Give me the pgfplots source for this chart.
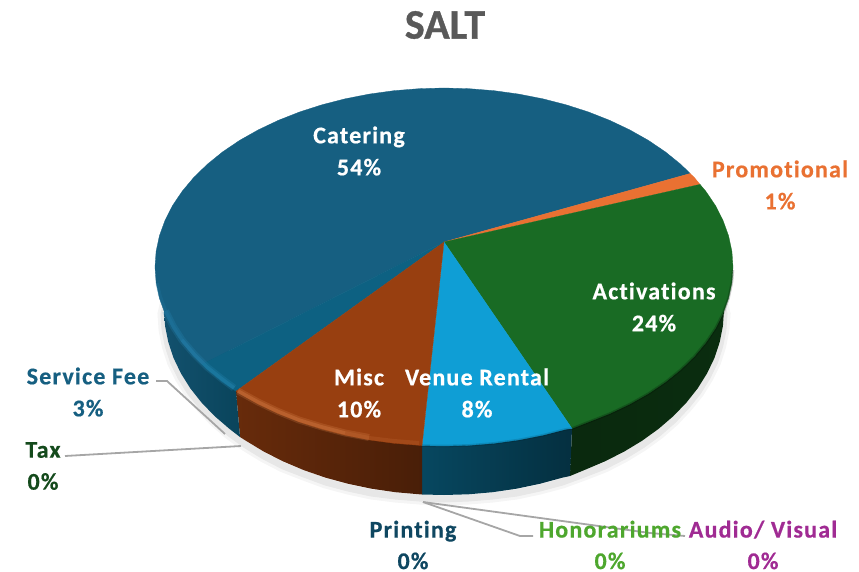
\documentclass[border=0pt]{standalone}
\usepackage{pgfplots}
\pgfplotsset{compat=1.18}
\usepackage{fontspec}
\setmainfont{Carlito}[LetterSpace=5,Ligatures=NoCommon,BoldFeatures={FakeBold=0.5}]
\newfontfamily\titlefont{Carlito}[BoldFeatures={FakeBold=0.8}]
\definecolor{cCat}{HTML}{165F81}
\definecolor{cSvc}{HTML}{0D6182}
\definecolor{cPro}{HTML}{E97132}
\definecolor{cAct}{HTML}{196B24}
\definecolor{cVen}{HTML}{0F9ED5}
\definecolor{cMis}{HTML}{983F10}
\definecolor{cTax}{HTML}{144A1C}
\definecolor{cPri}{HTML}{0F4761}
\definecolor{cHon}{HTML}{4EA72E}
\definecolor{cAud}{HTML}{A02B93}
\definecolor{cLead}{HTML}{A6A6A6}
\definecolor{hBlue}{HTML}{2C90C0}
\definecolor{hBrown}{HTML}{E08A50}
\tikzset{lab/.style={font=\fontsize{24}{32}\selectfont\bfseries, align=center, anchor=center}}
\tikzset{labb/.style={font=\fontsize{24}{31.5}\selectfont\bfseries, align=center, anchor=center, inner sep=0pt}}
\begin{document}
\begin{tikzpicture}
\begin{axis}[
  scale only axis, width=859pt, height=572pt,
  xmin=0, xmax=859, ymin=0, ymax=572, y dir=reverse,
  hide axis, clip=false, no markers,
]
\path[use as bounding box] (axis cs:0,0) rectangle (axis cs:859,572);
% soft shadow below the pie
\addplot[draw=black, opacity=0.04, line width=13pt] coordinates {(164,314)(165.1,330)(168.3,346)(173.5,362)(180.9,377)(190.2,392)(201.5,406)(214.6,420)(229.5,433)(246,445)(264,456)(283.4,466)(304,474)(325.7,482)(348.2,488)(371.5,493)(395.4,496)(419.6,498)(444,499)(468.4,498)(492.6,496)(516.5,493)(539.8,488)(562.3,482)(584,474)(604.6,466)(624,456)(642,445)(658.5,433)(673.4,420)(686.5,406)(697.8,392)(707.1,377)(714.5,362)(719.7,346)(722.9,330)(724,314)(700,210)(444,130)(188,210)} --cycle;
\addplot[draw=black, opacity=0.06, line width=7pt] coordinates {(164,314)(165.1,330)(168.3,346)(173.5,362)(180.9,377)(190.2,392)(201.5,406)(214.6,420)(229.5,433)(246,445)(264,456)(283.4,466)(304,474)(325.7,482)(348.2,488)(371.5,493)(395.4,496)(419.6,498)(444,499)(468.4,498)(492.6,496)(516.5,493)(539.8,488)(562.3,482)(584,474)(604.6,466)(624,456)(642,445)(658.5,433)(673.4,420)(686.5,406)(697.8,392)(707.1,377)(714.5,362)(719.7,346)(722.9,330)(724,314)(700,210)(444,130)(188,210)} --cycle;
% side walls
\addplot[draw=none, left color=cAct!38!black, right color=cAct!42!black] coordinates {(572,428.5)(570,476)(584,470.2)(604.6,461.5)(624,451.7)(642,440.8)(658.5,428.9)(673.4,416.1)(686.5,402.5)(697.8,388.2)(707.1,373.3)(714.5,357.9)(719.7,342.1)(722.9,326.1)(724,310)(650,330)} --cycle;
\addplot[draw=none, left color=cVen!45!black, right color=cVen!30!black] coordinates {(422,445)(422,494.5)(444,495)(468.4,494.3)(492.6,492.2)(516.5,488.7)(539.8,483.8)(562.3,477.7)(570,476)(572,428.5)(500,420)} --cycle;
\addplot[draw=none, left color=cMis!68!black, right color=cMis!48!black] coordinates {(236,391)(240,437)(246,440.8)(264,451.7)(283.4,461.5)(304,470.2)(325.7,477.7)(348.2,483.8)(371.5,488.7)(395.4,492.2)(419.6,494.3)(422,494.5)(422,445)(330,400)} --cycle;
\addplot[draw=none, left color=cCat!85!black, right color=cSvc!70!black] coordinates {(236,391)(240,437)(229.5,428.9)(214.6,416.1)(201.5,402.5)(190.2,388.2)(180.9,373.3)(173.5,357.9)(168.3,342.1)(165.1,326.1)(164,310)(200,300)(240,370)} --cycle;
% top face
\addplot[fill=cCat, draw=cCat, line width=0.3pt] coordinates {(444,242)(201.9,364.4)(193.7,356.5)(182.1,342.6)(172.4,328.2)(164.9,313.3)(159.4,298.1)(156.1,282.6)(155,267)(156.1,251.4)(159.4,235.9)(164.9,220.7)(172.4,205.8)(182.1,191.4)(193.7,177.5)(207.3,164.3)(222.6,151.9)(239.6,140.4)(258.2,129.9)(278.2,120.4)(299.5,112)(321.9,104.8)(345.2,98.8)(369.2,94.1)(393.8,90.7)(418.8,88.7)(444,88)(469.2,88.7)(494.2,90.7)(518.8,94.1)(542.8,98.8)(566.1,104.8)(588.5,112)(609.8,120.4)(629.8,129.9)(648.4,140.4)(665.4,151.9)(680.7,164.3)(690.2,173.5)} --cycle;
\addplot[fill=cSvc, draw=cSvc, line width=0.3pt] coordinates {(444,242)(236,391.2)(222.6,382.1)(207.3,369.7)(201.9,364.4)} --cycle;
\addplot[fill=cPro, draw=cPro, line width=0.3pt] coordinates {(444,242)(690.2,173.5)(694.3,177.5)(700,184.4)} --cycle;
\addplot[fill=cAct, draw=cAct, line width=0.3pt] coordinates {(444,242)(700,184.4)(705.9,191.4)(715.6,205.8)(723.1,220.7)(728.6,235.9)(731.9,251.4)(733,267)(731.9,282.6)(728.6,298.1)(723.1,313.3)(715.6,328.2)(705.9,342.6)(694.3,356.5)(680.7,369.7)(665.4,382.1)(648.4,393.6)(629.8,404.1)(609.8,413.6)(588.5,422)(572,428.5)} --cycle;
\addplot[fill=cVen, draw=cVen, line width=0.3pt] coordinates {(444,242)(572,428.5)(566.1,429.2)(542.8,435.2)(518.8,439.9)(494.2,443.3)(469.2,445.3)(444,446)(422,445.6)} --cycle;
\addplot[fill=cMis, draw=cMis, line width=0.3pt] coordinates {(444,242)(422,445.6)(418.8,445.3)(393.8,443.3)(369.2,439.9)(345.2,435.2)(321.9,429.2)(299.5,422)(278.2,413.6)(258.2,404.1)(239.6,393.6)(236,391.2)} --cycle;
% bevel highlights along the rim
\addplot[draw=hBrown, opacity=0.22, line width=7pt] coordinates {(238,391)(258,402)(278,411.5)(299,420)(322,427)(345,433)(369,437.5)};
\addplot[draw=hBrown, opacity=0.30, line width=3.5pt] coordinates {(238,391)(258,402)(278,411.5)(299,420)(322,427)(345,433)};
\addplot[draw=hBrown, opacity=0.14, line width=4pt] coordinates {(345,433)(369,438)(394,441)(419,443)};
\addplot[draw=hBlue, opacity=0.22, line width=7pt] coordinates {(234,388)(222,379)(207,367)(194,354)(182,340)(173,326)(165.5,311)};
\addplot[draw=hBlue, opacity=0.30, line width=3.5pt] coordinates {(234,388)(222,379)(207,367)(194,354)(182,340)};
\addplot[draw=hBlue, opacity=0.14, line width=3.5pt] coordinates {(182,340)(173,326)(165.5,311)(160,296)(157,283)};
% dark soft edge on the front right
\addplot[draw=black, opacity=0.22, line width=2.5pt] coordinates {(733,270)(731.9,282.6)(728.6,298.1)(723.1,313.3)(715.6,328.2)(705.9,342.6)(694.3,356.5)(680.7,369.7)(665.4,382.1)(648.4,393.6)(629.8,404.1)(609.8,413.6)(588.5,422)(572,428.5)};
\addplot[draw=black, opacity=0.12, line width=2.5pt] coordinates {(572,428.5)(566.1,429.2)(542.8,435.2)(518.8,439.9)(494.2,443.3)(469.2,445.3)(444,446)(422,445.6)};
% leader lines
\addplot[draw=cLead, line width=1.8pt] coordinates {(156,381)(167,381)(225,434)};
\addplot[draw=cLead, line width=1.8pt] coordinates {(65,456)(241,446)};
\addplot[draw=cLead, line width=1.8pt] coordinates {(423,502)(520,536)(533,536)};
\addplot[draw=cLead, line width=1.8pt] coordinates {(423,502)(650,533)(685,536)};
% text
\node[font=\titlefont\fontsize{42}{42}\selectfont\bfseries, text=black!65, anchor=center] at (axis cs:445,25) {SALT};
\node[lab, text=white] at (axis cs:359,151) {Catering\\54\%};
\node[lab, text=cPro] at (axis cs:780,185) {Promotional\\1\%};
\node[lab, text=white] at (axis cs:654,307) {Activations\\24\%};
\node[lab, text=white] at (axis cs:359,393) {Misc\\10\%};
\node[lab, text=white] at (axis cs:477,393) {Venue Rental\\8\%};
\node[lab, text=cCat] at (axis cs:88,392) {Service Fee\\3\%};
\node[lab, text=cTax] at (axis cs:43,466) {Tax\\0\%};
\node[labb, text=cPri] at (axis cs:413,545) {Printing\\0\%};
\node[labb, text=cHon] at (axis cs:610,545) {Honorariums\\0\%};
\node[labb, text=cAud] at (axis cs:763,545) {Audio/ Visual\\0\%};
\end{axis}
\end{tikzpicture}
\end{document}
